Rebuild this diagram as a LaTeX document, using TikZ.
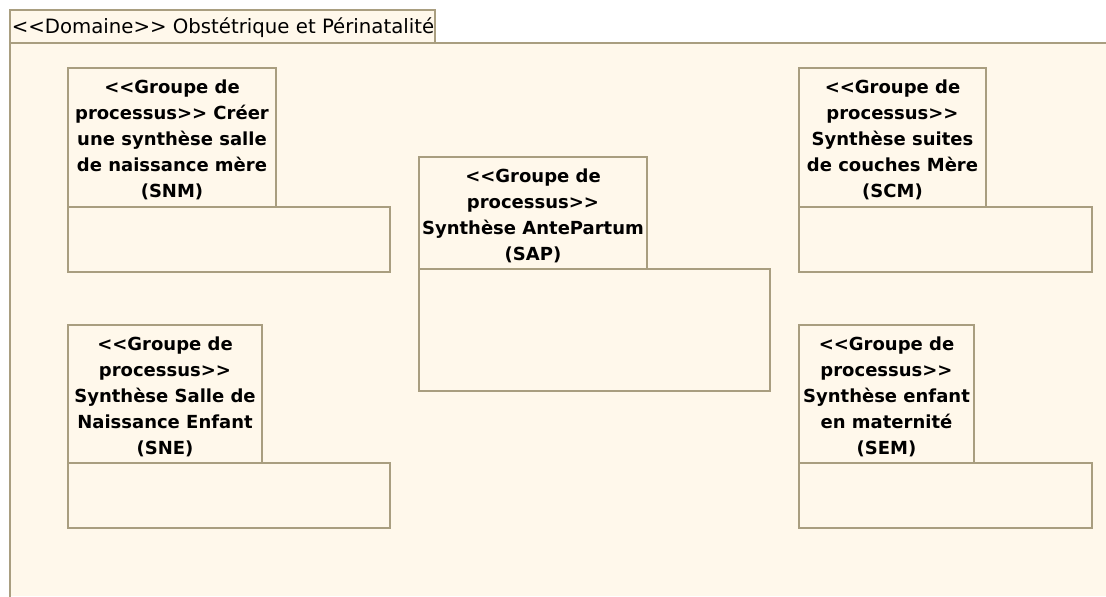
\documentclass[tikz,border=0pt]{standalone}
\usepackage{fontspec}
\newfontfamily\uifont{DejaVu Sans}
\usetikzlibrary{fit}
\definecolor{pkgfill}{HTML}{FFF8EB}
\definecolor{pkgline}{HTML}{A99E80}
\begin{document}
\begin{tikzpicture}[x=0.75pt,y=-0.75pt,
  box/.style={draw=pkgline, fill=pkgfill, line width=1.5pt, inner sep=0pt, rectangle},
  hdrtext/.style={font=\uifont\bfseries\fontsize{13.5}{19.5}\selectfont, align=center, inner sep=0pt, yshift=-2pt},
  titletext/.style={font=\uifont\fontsize{14.8}{18}\selectfont, inner sep=0pt, anchor=west}]
\useasboundingbox (0,0) rectangle (1106,596);
\fill[white] (0,0) rectangle (1106,596);
% package body
\fill[pkgfill] (10,43) rectangle (1106,596);
\draw[pkgline, line width=1.5pt] (1110,43) -- (10,43) -- (10,600);
% tab
\node[box, fit={(10,10)(435,43)}] (tab) {};
\node[titletext] (tabtext) at (11.5,28) {<<Domaine>> Obstétrique et Périnatalité};
% SNM
\node[box, fit={(68,207)(390,272)}] (snmb) {};
\node[box, fit={(68,68)(276,207)}] (snmh) {};
\node[hdrtext] (snmt) at (snmh.center) {<<Groupe de\\processus>> Créer\\une synthèse salle\\de naissance mère\\(SNM)};
% SAP
\node[box, fit={(419,269)(770,391)}] (sapb) {};
\node[box, fit={(419,157)(647,269)}] (saph) {};
\node[hdrtext] (sapt) at (saph.center) {<<Groupe de\\processus>>\\Synthèse AntePartum\\(SAP)};
% SCM
\node[box, fit={(799,207)(1092,272)}] (scmb) {};
\node[box, fit={(799,68)(986,207)}] (scmh) {};
\node[hdrtext] (scmt) at (scmh.center) {<<Groupe de\\processus>>\\Synthèse suites\\de couches Mère\\(SCM)};
% SNE
\node[box, fit={(68,463)(390,528)}] (sneb) {};
\node[box, fit={(68,325)(262,463)}] (sneh) {};
\node[hdrtext] (snet) at (sneh.center) {<<Groupe de\\processus>>\\Synthèse Salle de\\Naissance Enfant\\(SNE)};
% SEM
\node[box, fit={(799,463)(1092,528)}] (semb) {};
\node[box, fit={(799,325)(974,463)}] (semh) {};
\node[hdrtext] (semt) at (semh.center) {<<Groupe de\\processus>>\\Synthèse enfant\\en maternité\\(SEM)};
\end{tikzpicture}
\end{document}
